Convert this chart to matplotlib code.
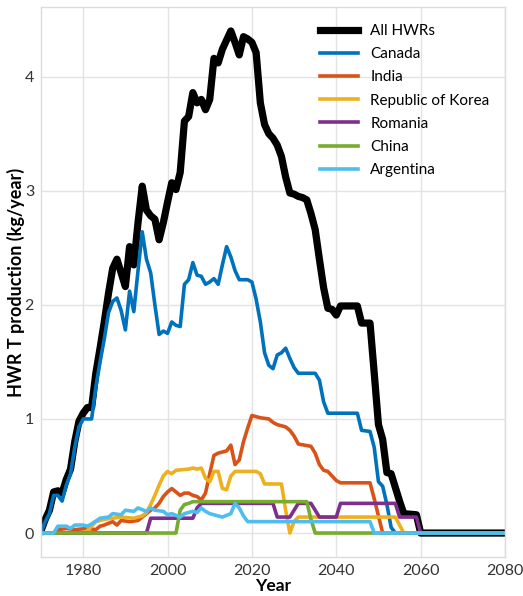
import matplotlib
matplotlib.use("Agg")
import matplotlib.pyplot as plt

plt.rcParams['font.family'] = ['Lato', 'DejaVu Sans']

all_years = [1970, 1971, 1972, 1973, 1974, 1975, 1976, 1977, 1978, 1979, 1980, 1981,
             1982, 1983, 1984, 1985, 1986, 1987, 1988, 1989, 1990, 1991, 1992, 1993,
             1994, 1995, 1996, 1997, 1998, 1999, 2000, 2001, 2002, 2003, 2004, 2005,
             2006, 2007, 2008, 2009, 2010, 2011, 2012, 2013, 2014, 2015, 2016, 2017,
             2018, 2019, 2020, 2021, 2022, 2023, 2024, 2025, 2026, 2027, 2028, 2029,
             2030, 2031, 2032, 2033, 2034, 2035, 2036, 2037, 2038, 2039, 2040, 2041,
             2045, 2046, 2048, 2049, 2050, 2051, 2052, 2053, 2054, 2055, 2056, 2059,
             2060, 2080]
all_vals = [0.02, 0.12, 0.2, 0.36, 0.37, 0.35, 0.47, 0.56, 0.8, 0.98, 1.05, 1.1,
            1.1, 1.4, 1.62, 1.85, 2.1, 2.32, 2.4, 2.28, 2.16, 2.51, 2.35, 2.72,
            3.04, 2.83, 2.78, 2.75, 2.57, 2.72, 2.9, 3.07, 3.01, 3.16, 3.61, 3.65,
            3.86, 3.77, 3.8, 3.71, 3.8, 4.16, 4.12, 4.24, 4.32, 4.4, 4.3, 4.19,
            4.35, 4.33, 4.3, 4.21, 3.77, 3.58, 3.5, 3.46, 3.4, 3.3, 3.12, 2.98,
            2.97, 2.95, 2.94, 2.92, 2.8, 2.66, 2.4, 2.15, 1.97, 1.96, 1.91, 1.99,
            1.99, 1.84, 1.84, 1.4, 0.95, 0.82, 0.53, 0.52, 0.4, 0.28, 0.17, 0.16,
            0.0, 0.0]

canada_years = [1970, 1971, 1972, 1973, 1974, 1975, 1976, 1977, 1978, 1979, 1980, 1981,
                1982, 1983, 1984, 1985, 1986, 1987, 1988, 1989, 1990, 1991, 1992, 1993,
                1994, 1995, 1996, 1997, 1998, 1999, 2000, 2001, 2002, 2003, 2004, 2005,
                2006, 2007, 2008, 2009, 2010, 2011, 2012, 2013, 2014, 2015, 2016, 2017,
                2019, 2020, 2021, 2022, 2023, 2024, 2025, 2026, 2027, 2028, 2029, 2030,
                2031, 2035, 2036, 2037, 2038, 2045, 2046, 2048, 2049, 2050, 2051, 2052,
                2053, 2054, 2080]
canada_vals = [0.0, 0.1, 0.17, 0.33, 0.33, 0.28, 0.42, 0.52, 0.75, 0.93, 1.0, 1.0,
               1.0, 1.28, 1.5, 1.7, 1.93, 2.03, 2.06, 1.95, 1.78, 2.12, 1.94, 2.3,
               2.64, 2.4, 2.28, 2.0, 1.74, 1.77, 1.75, 1.85, 1.82, 1.81, 2.18, 2.22,
               2.37, 2.26, 2.25, 2.18, 2.2, 2.23, 2.18, 2.35, 2.51, 2.42, 2.3, 2.22,
               2.22, 2.2, 2.05, 1.85, 1.58, 1.47, 1.44, 1.56, 1.58, 1.62, 1.53, 1.45,
               1.4, 1.4, 1.34, 1.15, 1.05, 1.05, 0.9, 0.89, 0.75, 0.45, 0.41, 0.25,
               0.05, 0.0, 0.0]

india_years = [1970, 1973, 1974, 1976, 1978, 1981, 1983, 1984, 1985, 1987, 1988, 1989,
               1991, 1993, 1995, 1996, 1997, 1998, 1999, 2000, 2001, 2002, 2003, 2004,
               2005, 2006, 2007, 2008, 2009, 2010, 2011, 2012, 2013, 2014, 2015, 2016,
               2017, 2018, 2019, 2020, 2021, 2022, 2024, 2025, 2026, 2028, 2029, 2030,
               2031, 2034, 2035, 2036, 2037, 2038, 2039, 2040, 2041, 2048, 2049, 2050,
               2051, 2080]
india_vals = [0.0, 0.0, 0.03, 0.04, 0.03, 0.04, 0.03, 0.06, 0.07, 0.1, 0.07, 0.11,
              0.1, 0.11, 0.17, 0.2, 0.22, 0.26, 0.32, 0.36, 0.39, 0.36, 0.33, 0.35,
              0.35, 0.33, 0.32, 0.29, 0.35, 0.52, 0.68, 0.7, 0.71, 0.72, 0.77, 0.6,
              0.64, 0.8, 0.92, 1.03, 1.02, 1.01, 1.0, 0.97, 0.95, 0.93, 0.9, 0.85,
              0.78, 0.76, 0.7, 0.6, 0.55, 0.54, 0.5, 0.46, 0.44, 0.44, 0.3, 0.15,
              0.0, 0.0]

korea_years = [1970, 1980, 1981, 1983, 1985, 1987, 1989, 1992, 1994, 1995, 1996, 1997,
               1998, 1999, 2000, 2001, 2002, 2005, 2006, 2007, 2008, 2009, 2010, 2011,
               2012, 2013, 2014, 2015, 2016, 2021, 2022, 2023, 2027, 2028, 2029, 2030,
               2031, 2054, 2056, 2080]
korea_vals = [0.0, 0.0, 0.02, 0.1, 0.12, 0.13, 0.14, 0.13, 0.15, 0.18, 0.25, 0.33,
              0.42, 0.5, 0.54, 0.52, 0.55, 0.56, 0.57, 0.56, 0.57, 0.48, 0.45, 0.54,
              0.54, 0.39, 0.38, 0.5, 0.54, 0.54, 0.52, 0.43, 0.43, 0.2, 0.0, 0.1,
              0.14, 0.14, 0.0, 0.0]

romania_years = [1970, 1995, 1996, 2006, 2007, 2008, 2025, 2026, 2029, 2030, 2031, 2034,
                 2035, 2036, 2040, 2041, 2054, 2055, 2059, 2060, 2080]
romania_vals = [0.0, 0.0, 0.13, 0.13, 0.22, 0.26, 0.26, 0.14, 0.14, 0.2, 0.26, 0.26,
                0.2, 0.14, 0.14, 0.26, 0.26, 0.14, 0.14, 0.0, 0.0]

china_years = [1970, 2002, 2003, 2004, 2005, 2006, 2033, 2034, 2035, 2080]
china_vals = [0.0, 0.0, 0.2, 0.25, 0.26, 0.275, 0.275, 0.12, 0.0, 0.0]

argentina_years = [1970, 1973, 1974, 1976, 1977, 1978, 1980, 1981, 1982, 1984, 1986, 1987,
                   1989, 1990, 1992, 1993, 1995, 1996, 1997, 1999, 2000, 2001, 2003, 2004,
                   2006, 2007, 2008, 2009, 2010, 2011, 2013, 2015, 2016, 2017, 2018, 2019,
                   2048, 2049, 2080]
argentina_vals = [0.0, 0.0, 0.06, 0.06, 0.04, 0.07, 0.07, 0.06, 0.08, 0.13, 0.14, 0.17,
                  0.16, 0.2, 0.19, 0.22, 0.19, 0.22, 0.2, 0.19, 0.16, 0.17, 0.14, 0.17,
                  0.19, 0.18, 0.22, 0.19, 0.17, 0.16, 0.14, 0.17, 0.26, 0.22, 0.15, 0.1,
                  0.1, 0.0, 0.0]

series = [
    ("All HWRs", all_years, all_vals, "#000000", 5.2),
    ("Canada", canada_years, canada_vals, "#0072BD", 2.6),
    ("India", india_years, india_vals, "#D95319", 2.6),
    ("Republic of Korea", korea_years, korea_vals, "#EDB120", 2.6),
    ("Romania", romania_years, romania_vals, "#7E2F8E", 2.6),
    ("China", china_years, china_vals, "#77AC30", 2.6),
    ("Argentina", argentina_years, argentina_vals, "#4DBEEE", 2.6),
]

fig = plt.figure(figsize=(5.23, 5.96), dpi=100)
ax = fig.add_axes([41 / 523, 39 / 596, 464 / 523, 550 / 596])

for name, xs, ys, col, lw in series:
    ax.plot(xs, ys, color=col, lw=lw, label=name, solid_joinstyle='round')

ax.set_xlim(1970, 2080)
ax.set_ylim(-0.21, 4.61)
ax.set_xticks([1980, 2000, 2020, 2040, 2060, 2080])
ax.set_yticks([0, 1, 2, 3, 4])
ax.grid(True, color="#e3e3e3", lw=1)
ax.set_axisbelow(True)
for sp in ax.spines.values():
    sp.set_color("#dcdcdc")
    sp.set_linewidth(1)
ax.tick_params(length=0, labelsize=11.5, colors="#333333", pad=5)
for lab in ax.get_xticklabels() + ax.get_yticklabels():
    lab.set_color("#333333")

ax.set_xlabel("Year", fontsize=12.5, fontweight="bold", labelpad=0)
ax.set_ylabel("HWR T production (kg/year)", fontsize=13, fontweight="bold", labelpad=0)

ax.legend(loc="upper left", bbox_to_anchor=(0.601, 0.969), frameon=False,
          borderpad=0, borderaxespad=0, handlelength=2.5, handletextpad=0.8,
          labelspacing=0.6, fontsize=11)

fig.savefig("out.png", dpi=100)
